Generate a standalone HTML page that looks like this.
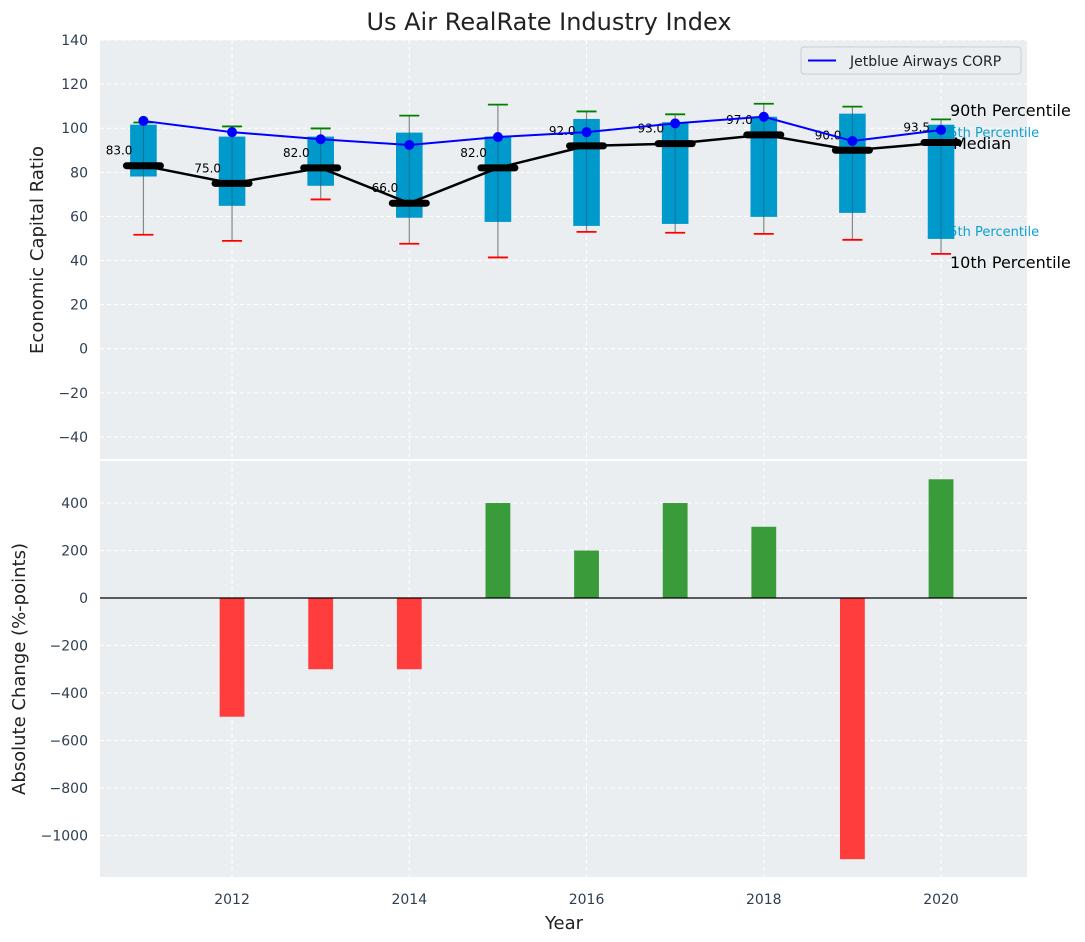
<!DOCTYPE html>
<html><head><meta charset="utf-8"><style>
body{margin:0;background:#fff;}
svg{display:block;font-family:"DejaVu Sans","Liberation Sans",sans-serif;}
</style></head><body>
<svg id="c" width="1085" height="942"></svg>
<script>
const years=[2011,2012,2013,2014,2015,2016,2017,2018,2019,2020];
const medians=[83,75,82,66,82,92,93,97,90,93.5];
const q75=[101.6,96.2,96.2,98,96.2,104.2,102.7,105.2,106.6,101.6];
const q25=[78.1,64.8,73.9,59.4,57.5,55.7,56.6,59.8,61.6,49.8];
const p90=[102.6,100.8,99.9,105.7,110.7,107.6,106.3,111.1,109.8,104];
const p10=[51.7,48.9,67.7,47.6,41.4,53,52.6,52.1,49.4,43];
const company=[103.3,98.2,95,92.4,96,98.2,102.2,105.2,94.2,99.2];
const changes=[0,-500,-300,-300,400,200,400,300,-1100,500];
const topTicks=[-40,-20,0,20,40,60,80,100,120,140];
const botTicks=[-1000,-800,-600,-400,-200,0,200,400];
const xTicks=[2012,2014,2016,2018,2020];

const NS="http://www.w3.org/2000/svg";
const svg=document.getElementById('c');
function el(tag,attrs,parent,text){const e=document.createElementNS(NS,tag);for(const k in attrs)e.setAttribute(k,attrs[k]);if(text!==undefined)e.textContent=text;(parent||svg).appendChild(e);return e;}
const L=100,R=1027;
const X0=2010.51,X1=2020.97;
const x=v=>L+(v-X0)/(X1-X0)*(R-L);
const T1=40,B1=459,T2=461,B2=877;
const y1=v=>T1+(140-v)/(190)*(B1-T1);
const y2=v=>T2+(577-v)/(577+1175)*(B2-T2);
const TC="#2e3f51";

el('text',{x:549,y:30,'text-anchor':'middle','font-size':24,fill:'#222'},svg,'Us Air RealRate Industry Index');

let r=el('rect',{x:L,y:T1,width:R-L,height:B1-T1,fill:'#eaeef0'});

r=el('rect',{x:L,y:T2,width:R-L,height:B2-T2,fill:'#eaeef0'});


for(const t of topTicks){const yy=y1(t);
 el('line',{x1:L,x2:R,y1:yy,y2:yy,stroke:'#fff','stroke-dasharray':'4,3'});
 const lb=el('text',{x:L-12,y:yy+5,'text-anchor':'end','font-size':14,fill:TC},svg,t<0?'\u2212'+(-t):String(t));
 }
for(const t of botTicks){const yy=y2(t);
 el('line',{x1:L,x2:R,y1:yy,y2:yy,stroke:'#fff','stroke-dasharray':'4,3'});
 const lb=el('text',{x:L-12,y:yy+5,'text-anchor':'end','font-size':14,fill:TC},svg,t<0?'\u2212'+(-t):String(t));
 }
for(const t of xTicks){const xx=x(t);
 el('line',{x1:xx,x2:xx,y1:T1,y2:B1,stroke:'#fff','stroke-dasharray':'4,3'});
 el('line',{x1:xx,x2:xx,y1:T2,y2:B2,stroke:'#fff','stroke-dasharray':'4,3'});
 const lb=el('text',{x:xx,y:B2+27,'text-anchor':'middle','font-size':14,fill:TC},svg,String(t));
 }

// right annotations (behind boxes)
el('text',{x:941,y:137,'font-size':13,fill:'#0aa0d0'},svg,'75th Percentile');
el('text',{x:941,y:236,'font-size':13,fill:'#0aa0d0'},svg,'25th Percentile');

const bw=0.3*(x(1)-x(0)), cw=20;
years.forEach((yr,i)=>{const xx=x(yr);
 const w=el('line',{x1:xx,x2:xx,y1:y1(p90[i]),y2:y1(p10[i]),stroke:'#888','stroke-width':1.2});
 
 const b=el('rect',{x:xx-bw/2,y:y1(q75[i]),width:bw,height:y1(q25[i])-y1(q75[i]),fill:'#0099cc'});
 
 el('line',{x1:xx,x2:xx,y1:y1(q75[i]),y2:y1(q25[i]),stroke:'#1a5a70','stroke-width':1,opacity:0.6});
 const g=el('line',{x1:xx-cw/2,x2:xx+cw/2,y1:y1(p90[i]),y2:y1(p90[i]),stroke:'green','stroke-width':1.8});
 
 const rc=el('line',{x1:xx-cw/2,x2:xx+cw/2,y1:y1(p10[i]),y2:y1(p10[i]),stroke:'red','stroke-width':1.8});
 
});
let pts=years.map((yr,i)=>x(yr)+','+y1(medians[i])).join(' ');
let ml=el('polyline',{points:pts,fill:'none',stroke:'#000','stroke-width':2.5});

years.forEach((yr,i)=>{const xx=x(yr),yy=y1(medians[i]);
 const m=el('line',{x1:xx-17,x2:xx+17,y1:yy,y2:yy,stroke:'#000','stroke-width':7,'stroke-linecap':'round'});
 
 const t=el('text',{x:xx-11,y:yy-11,'text-anchor':'end','font-size':12,fill:'#000'},svg,medians[i].toFixed(1));
 
});
pts=years.map((yr,i)=>x(yr)+','+y1(company[i])).join(' ');
let cl=el('polyline',{points:pts,fill:'none',stroke:'#0000ff','stroke-width':2});

years.forEach((yr,i)=>{const d=el('circle',{cx:x(yr),cy:y1(company[i]),r:5,fill:'#0000ff'});
 });

el('text',{x:950,y:116,'font-size':16,fill:'#000'},svg,'90th Percentile');
el('text',{x:953,y:149,'font-size':16,fill:'#000'},svg,'Median');
el('text',{x:950,y:268,'font-size':16,fill:'#000'},svg,'10th Percentile');

const lg=el('g',{});
el('rect',{x:801,y:47,width:220,height:27,fill:'#eaeef0',stroke:'#ccc',rx:3},lg);
el('line',{x1:808,x2:836,y1:60.5,y2:60.5,stroke:'#0000ff','stroke-width':2},lg);
el('text',{x:850,y:66,'font-size':14,fill:'#222'},lg,'Jetblue Airways CORP');

const barW=0.28*(x(1)-x(0));
years.forEach((yr,i)=>{const v=changes[i];if(v===0)return;
 const y0=y2(0),yv=y2(v);
 const b=el('rect',{x:x(yr)-barW/2,y:Math.min(y0,yv),width:barW,height:Math.abs(yv-y0),fill:v>0?'#3a9b3a':'#ff3d3d'});
 
});
el('line',{x1:L,x2:R,y1:y2(0),y2:y2(0),stroke:'#000','stroke-width':1.2});

let t=el('text',{x:43,y:250,'text-anchor':'middle','font-size':18,fill:'#222',transform:'rotate(-90 43 250)'},svg,'Economic Capital Ratio');

t=el('text',{x:25,y:669,'text-anchor':'middle','font-size':18,fill:'#222',transform:'rotate(-90 25 669)'},svg,'Absolute Change (%-points)');

t=el('text',{x:564,y:929,'text-anchor':'middle','font-size':18,fill:'#222'},svg,'Year');

</script>
</body></html>
